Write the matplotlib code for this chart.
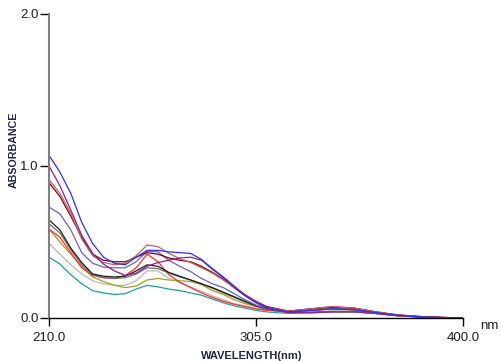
import matplotlib
matplotlib.use("Agg")
import matplotlib.pyplot as plt

plt.rcParams['font.family'] = ['Liberation Sans', 'DejaVu Sans']

# wavelength grid (nm)
wl = [210, 215, 220, 225, 230, 235, 240, 245, 250, 255, 260, 265, 270, 275, 280,
      285, 290, 295, 300, 305, 310, 320, 330, 340, 350, 360, 370, 380, 390, 400]

# absorbance spectra
blue = [1.07, 0.96, 0.82, 0.63, 0.49, 0.40, 0.36, 0.35, 0.40, 0.445, 0.445, 0.435, 0.43, 0.425, 0.385,
        0.325, 0.27, 0.21, 0.15, 0.105, 0.07, 0.04, 0.05, 0.06, 0.055, 0.035, 0.018, 0.008, 0.003, 0.0]
purple = [1.00, 0.87, 0.71, 0.545, 0.425, 0.355, 0.31, 0.28, 0.295, 0.34, 0.365, 0.38, 0.395, 0.40, 0.38,
          0.32, 0.265, 0.20, 0.145, 0.10, 0.062, 0.035, 0.035, 0.04, 0.04, 0.03, 0.015, 0.007, 0.002, 0.0]
rose = [0.91, 0.82, 0.69, 0.52, 0.41, 0.365, 0.35, 0.36, 0.41, 0.48, 0.47, 0.425, 0.39, 0.365, 0.33,
        0.295, 0.25, 0.20, 0.155, 0.11, 0.07, 0.045, 0.06, 0.075, 0.065, 0.04, 0.02, 0.01, 0.004, 0.0]
maroon = [0.89, 0.80, 0.67, 0.53, 0.42, 0.38, 0.37, 0.37, 0.40, 0.43, 0.42, 0.395, 0.38, 0.37, 0.34,
          0.30, 0.255, 0.20, 0.15, 0.11, 0.075, 0.045, 0.06, 0.07, 0.065, 0.04, 0.02, 0.01, 0.004, 0.0]
slate = [0.73, 0.685, 0.58, 0.43, 0.36, 0.335, 0.33, 0.33, 0.37, 0.44, 0.435, 0.38, 0.34, 0.305, 0.26,
         0.225, 0.20, 0.16, 0.12, 0.085, 0.06, 0.04, 0.05, 0.06, 0.055, 0.035, 0.018, 0.008, 0.003, 0.0]
black = [0.645, 0.58, 0.46, 0.365, 0.29, 0.275, 0.27, 0.275, 0.31, 0.35, 0.34, 0.30, 0.275, 0.25, 0.225,
         0.20, 0.17, 0.14, 0.11, 0.08, 0.06, 0.04, 0.05, 0.06, 0.055, 0.035, 0.018, 0.008, 0.003, 0.0]
dgray = [0.62, 0.56, 0.45, 0.35, 0.285, 0.265, 0.26, 0.265, 0.29, 0.33, 0.325, 0.295, 0.27, 0.25, 0.225,
         0.195, 0.165, 0.135, 0.105, 0.078, 0.058, 0.035, 0.04, 0.045, 0.045, 0.03, 0.015, 0.007, 0.002, 0.0]
red = [0.585, 0.53, 0.43, 0.33, 0.28, 0.265, 0.26, 0.28, 0.33, 0.42, 0.37, 0.285, 0.235, 0.20, 0.165,
       0.135, 0.11, 0.09, 0.075, 0.06, 0.05, 0.045, 0.06, 0.075, 0.065, 0.04, 0.02, 0.01, 0.004, 0.0]
olive = [0.585, 0.50, 0.42, 0.34, 0.27, 0.24, 0.215, 0.20, 0.21, 0.25, 0.26, 0.25, 0.245, 0.24, 0.22,
         0.18, 0.155, 0.12, 0.095, 0.075, 0.055, 0.035, 0.035, 0.04, 0.04, 0.03, 0.015, 0.007, 0.002, 0.0]
lgray = [0.49, 0.42, 0.35, 0.29, 0.245, 0.225, 0.215, 0.215, 0.245, 0.31, 0.31, 0.26, 0.235, 0.205, 0.175,
         0.145, 0.12, 0.095, 0.08, 0.063, 0.05, 0.035, 0.035, 0.04, 0.04, 0.03, 0.015, 0.007, 0.002, 0.0]
teal = [0.40, 0.355, 0.285, 0.225, 0.18, 0.165, 0.155, 0.16, 0.19, 0.215, 0.205, 0.19, 0.18, 0.165, 0.15,
        0.125, 0.10, 0.08, 0.065, 0.05, 0.04, 0.03, 0.035, 0.04, 0.04, 0.03, 0.015, 0.007, 0.002, 0.0]

spectra = [teal, lgray, olive, red, dgray, black, slate, maroon, rose, purple, blue]
colors = ['#20a0a0', '#b8b8b8', '#a0a020', '#ff3030', '#707070', '#202020',
          '#6868b8', '#800000', '#b86868', '#902090', '#3030f0']

x_ticks = [210, 305, 400]
y_ticks = [0.0, 1.0, 2.0]

fig = plt.figure(figsize=(5.02, 3.61), dpi=100)
ax = fig.add_axes([49 / 502, 43 / 361, 414 / 502, 304 / 361])

for s, c in zip(spectra, colors):
    ax.plot(wl, s, color=c, lw=0.9)

ax.set_xlim(210, 400)
ax.set_ylim(0, 2.0)
ax.set_xticks(x_ticks)
ax.set_xticklabels(['%.1f' % t for t in x_ticks])
ax.set_yticks(y_ticks)
ax.set_yticklabels(['%.1f' % t for t in y_ticks])

ax.spines['top'].set_visible(False)
ax.spines['right'].set_visible(False)
ax.spines['left'].set_color('#808080')
ax.spines['left'].set_linewidth(1.5)
ax.spines['bottom'].set_color('black')
ax.spines['bottom'].set_linewidth(1.0)
ax.tick_params(axis='x', length=6, width=1, labelsize=9.5, pad=4, color='black', labelcolor='#202020')
ax.tick_params(axis='y', length=6.5, width=1, labelsize=9.5, pad=1, color='black', labelcolor='#202020')

label_color = '#1c2844'
fig.text(480 / 502, 1 - 326 / 361, 'nm', fontsize=9.5, va='center', ha='left', color='#202020')
fig.text(252 / 502, 1 - 356 / 361, 'WAVELENGTH(nm)', fontsize=8, fontweight='bold',
         ha='center', va='center', color=label_color)
fig.text(13.5 / 502, 1 - 150 / 361, 'ABSORBANCE', fontsize=7.7, fontweight='bold',
         rotation=90, ha='center', va='center', color=label_color)

fig.savefig('out.png', dpi=100)
